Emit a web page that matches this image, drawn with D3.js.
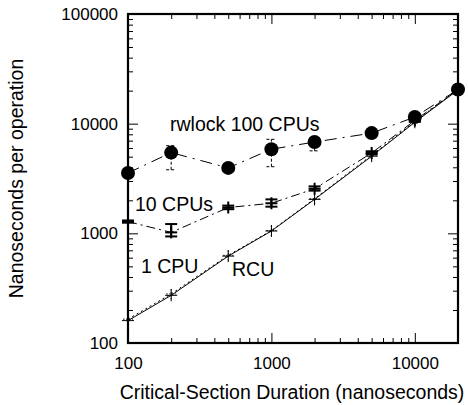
<!DOCTYPE html>
<html><head><meta charset="utf-8">
<script src="https://cdn.jsdelivr.net/npm/d3@7"></script>
<style>body{margin:0;background:#fff}svg{display:block}text{font-family:"Liberation Sans",Arial,sans-serif;fill:#000}</style>
</head><body><svg id="c" width="468" height="405"></svg>
<script>
const durations = [100, 200, 500, 1000, 2000, 5000, 10000, 20000];
const rwlock100 = [3550, 5450, 3950, 5850, 6800, 8200, 11500, 20500];
const rwlock100Lo = [3550, 3800, 3950, 4050, 5650, 8200, 11000, 20500];
const rwlock100Hi = [3550, 6300, 3950, 7200, 7400, 8200, 12000, 20500];
const rwlock10 = [1280, 1020, 1720, 1880, 2550, 5400, 10700, 20500];
const rwlock10Lo = [1250, 937, 1660, 1750, 2450, 5250, 10500, 20500];
const rwlock10Hi = [1310, 1215, 1790, 2040, 2680, 5600, 10900, 20500];
const rwlock1 = [165, 280, 630, 1060, 2070, 5150, 10500, 20500];
const rcu = [160, 272, 620, 1050, 2040, 5050, 10300, 20300];
const xTicks = [100, 1000, 10000];
const yTicks = [100, 1000, 10000, 100000];
const labels = ["rwlock 100 CPUs", "10 CPUs", "1 CPU", "RCU"];

const svg = d3.select("#c");
const L = 128, R = 458, T = 14, B = 343;
const x = d3.scaleLog().domain([100, 20000]).range([L, R]);
const y = d3.scaleLog().domain([100, 100000]).range([B, T]);

function minors(lo, hi) {
  const out = [];
  for (let d = lo; d < hi; d *= 10) for (let k = 2; k <= 9; k++) if (d * k <= hi) out.push(d * k);
  return out;
}
const xMin = minors(100, 20000), yMin = minors(100, 100000);

const g = svg.append("g");
const axB = d3.axisBottom(x).tickValues(xTicks).tickFormat(d3.format("d")).tickSizeInner(-10).tickSizeOuter(0).tickPadding(14);
const axL = d3.axisLeft(y).tickValues(yTicks).tickFormat(d3.format("d")).tickSizeInner(-10).tickSizeOuter(0).tickPadding(10);
function style(sel) {
  sel.select(".domain").remove();
  sel.selectAll("line").attr("stroke", "#000").attr("stroke-width", 1);
  sel.selectAll("text").attr("font-size", 17).attr("font-family", "Liberation Sans, Arial, sans-serif");
}
g.append("g").attr("transform", `translate(0,${B})`).call(axB).call(style);
g.append("g").attr("transform", `translate(${L},0)`).call(axL).call(style);
g.append("g").attr("transform", `translate(0,${T})`).call(d3.axisTop(x).tickValues(xTicks).tickFormat("").tickSizeInner(-10).tickSizeOuter(0)).call(style);
g.append("g").attr("transform", `translate(${R},0)`).call(d3.axisRight(y).tickValues(yTicks.slice(0,3)).tickFormat("").tickSizeInner(-10).tickSizeOuter(0)).call(style);
g.append("g").attr("transform", `translate(0,${B})`).call(d3.axisBottom(x).tickValues(xMin).tickFormat("").tickSizeInner(-5).tickSizeOuter(0)).call(style);
g.append("g").attr("transform", `translate(0,${T})`).call(d3.axisTop(x).tickValues(xMin).tickFormat("").tickSizeInner(-5).tickSizeOuter(0)).call(style);
g.append("g").attr("transform", `translate(${L},0)`).call(d3.axisLeft(y).tickValues(yMin).tickFormat("").tickSizeInner(-5).tickSizeOuter(0)).call(style);
g.append("g").attr("transform", `translate(${R},0)`).call(d3.axisRight(y).tickValues(yMin).tickFormat("").tickSizeInner(-5).tickSizeOuter(0)).call(style);

svg.append("rect").attr("x", L).attr("y", T).attr("width", R - L).attr("height", B - T)
  .attr("fill", "none").attr("stroke", "#000").attr("stroke-width", 2.2);

const line = d3.line().x(d => x(d[0])).y(d => y(d[1]));
function series(vals, dash, w) {
  svg.append("path").datum(durations.map((d, i) => [d, vals[i]])).attr("d", line)
    .attr("fill", "none").attr("stroke", "#000").attr("stroke-width", w || 1)
    .attr("stroke-dasharray", dash);
}
series(rcu, null, 1);
series(rwlock1, "2,3", 1);
series(rwlock10, "9,4,2,4", 1);
series(rwlock100, "12,6,2,6", 1);

function errbars(lo, hi, cap, dash, w) {
  const eg = svg.append("g").attr("stroke", "#000").attr("stroke-width", w).attr("stroke-dasharray", dash);
  durations.forEach((d, i) => {
    if (hi[i] === lo[i]) return;
    const cx = x(d);
    eg.append("line").attr("x1", cx).attr("x2", cx).attr("y1", y(lo[i])).attr("y2", y(hi[i]));
    eg.append("line").attr("x1", cx - cap).attr("x2", cx + cap).attr("y1", y(lo[i])).attr("y2", y(lo[i]));
    eg.append("line").attr("x1", cx - cap).attr("x2", cx + cap).attr("y1", y(hi[i])).attr("y2", y(hi[i]));
  });
}
errbars(rwlock100Lo, rwlock100Hi, 5, "3,2", 1);
errbars(rwlock10Lo, rwlock10Hi, 6, null, 2);

function plus(vals, s, w, dash) {
  const pg = svg.append("g").attr("stroke", "#000").attr("stroke-width", w).attr("stroke-dasharray", dash);
  durations.forEach((d, i) => {
    const cx = x(d), cy = y(vals[i]);
    pg.append("line").attr("x1", cx - s).attr("x2", cx + s).attr("y1", cy).attr("y2", cy);
    pg.append("line").attr("x1", cx).attr("x2", cx).attr("y1", cy - s).attr("y2", cy + s);
  });
}
plus(rcu, 6, 1, null);
plus(rwlock1, 5, 1, "1.5,1.5");
plus(rwlock10, 6, 2, null);
svg.append("g").selectAll("circle").data(durations).join("circle")
  .attr("cx", d => x(d)).attr("cy", (d, i) => y(rwlock100[i])).attr("r", 7).attr("fill", "#000");

svg.append("g").selectAll("text").data(labels).join("text")
  .attr("x", (d, i) => [170, 135, 141, 232][i])
  .attr("y", (d, i) => [131, 211, 273, 276][i])
  .attr("font-size", 19.5).text(d => d);

svg.append("text").attr("x", 292).attr("y", 399).attr("text-anchor", "middle")
  .attr("font-size", 19.5).text("Critical-Section Duration (nanoseconds)");
svg.append("text").attr("transform", `translate(23,${(T + B) / 2}) rotate(-90)`).attr("text-anchor", "middle")
  .attr("font-size", 19.5).text("Nanoseconds per operation");
</script></body></html>
